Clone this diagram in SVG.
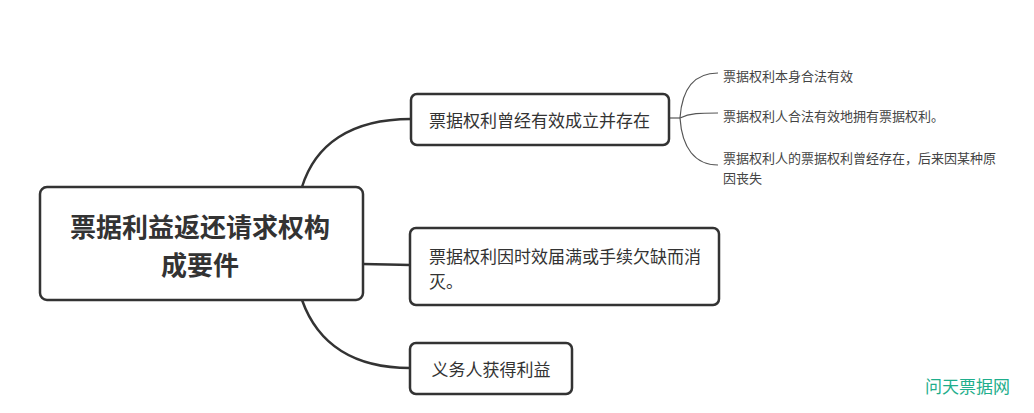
<svg xmlns="http://www.w3.org/2000/svg" width="1034" height="413" viewBox="0 0 1034 413">
<style>
.box{fill:#fff;stroke:#333;stroke-width:2.5}
.t{font-family:"Noto Sans CJK SC","Noto Sans",sans-serif;fill:#333;dominant-baseline:central}
.main{font-size:26px;font-weight:bold;text-anchor:middle}
.n{font-size:17px}
.leaf{font-size:13px;fill:#444}
.c{fill:none;stroke:#333;stroke-width:2.5}
.cl{fill:none;stroke:#555;stroke-width:1.2}
.wm{font-family:"Noto Sans CJK SC",sans-serif;font-size:17px;fill:#1fae8c;dominant-baseline:central}
</style>
<rect width="1034" height="413" fill="#fff"/>
<g id="connectors">
<path class="c" d="M302,187 C315,145 350,119 411,119"/>
<path class="c" d="M363,264 C385,264 390,265 410,265"/>
<path class="c" d="M302,300 C318,345 355,368 410,368"/>
<path class="cl" d="M669,118 L680,118"/>
<path class="cl" d="M680,118 C682,88 695,73 718,73"/>
<path class="cl" d="M680,118 C690,113 700,113 718,113"/>
<path class="cl" d="M680,118 C682,148 695,165 718,165"/>
</g>
<g id="root">
<rect class="box" x="40" y="187" width="323" height="113" rx="7"/>
<text class="t main" x="200" y="225">票据利益返还请求权构</text>
<text class="t main" x="200" y="263">成要件</text>
</g>
<g id="node1">
<rect class="box" x="411" y="94" width="258" height="51" rx="6"/>
<text class="t n" x="429" y="119">票据权利曾经有效成立并存在</text>
</g>
<g id="node2">
<rect class="box" x="410" y="228" width="309" height="77" rx="6"/>
<text class="t n" x="429" y="255">票据权利因时效届满或手续欠缺而消</text>
<text class="t n" x="429" y="280">灭。</text>
</g>
<g id="node3">
<rect class="box" x="410" y="343" width="162" height="51" rx="6"/>
<text class="t n" x="491" y="368" text-anchor="middle">义务人获得利益</text>
</g>
<g id="leaf1">
<text class="t leaf" x="723" y="75">票据权利本身合法有效</text>
</g>
<g id="leaf2">
<text class="t leaf" x="723" y="115">票据权利人合法有效地拥有票据权利。</text>
</g>
<g id="leaf3">
<text class="t leaf" x="723" y="157">票据权利人的票据权利曾经存在，后来因某种原</text>
<text class="t leaf" x="723" y="177">因丧失</text>
</g>
<text class="wm" x="925" y="385">问天票据网</text>
</svg>
